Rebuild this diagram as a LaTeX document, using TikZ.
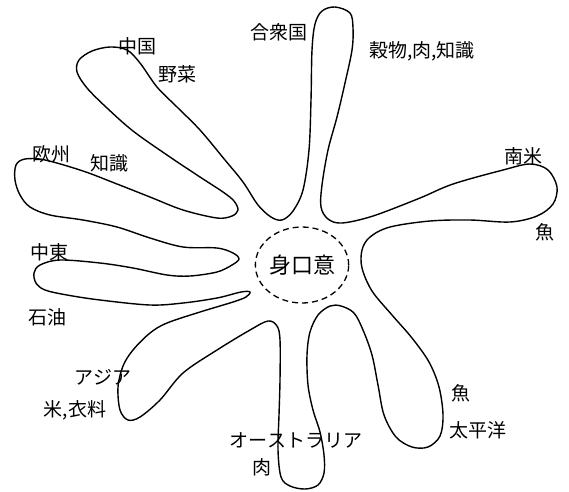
\documentclass[tikz,border=0pt]{standalone}
\usepackage{fontspec}
\newfontfamily\jpfont{Noto Sans CJK JP}
\usetikzlibrary{shapes.geometric}
\tikzset{
  lbl/.style={font=\jpfont\fontsize{19}{19}\selectfont, inner sep=0pt, anchor=center},
  outline/.style={line width=1.4pt, line join=round},
  core/.style={draw, dashed, dash pattern=on 6pt off 4pt, line width=1.3pt, ellipse,
    minimum width=90pt, minimum height=76pt, inner sep=0pt,
    font=\jpfont\fontsize{22}{22}\selectfont}
}
\begin{document}
\begin{tikzpicture}[x=1pt,y=-1pt]
\useasboundingbox (0,0) rectangle (569,491);
\fill[white] (0,0) rectangle (569,491);
% petal outline
\draw[outline] plot[smooth cycle, tension=0.55] coordinates {
(335,7) (350,13) (353,28) (352,50) (345,83) (337,117) (328,150) (322,185) (321,207) (328,219) (342,223)
(373,216) (420,198) (453,184) (503,170) (530,164) (548,170) (557,187) (553,204) (537,216) (510,222)
(470,220) (430,221) (390,227) (370,237) (362,250) (362,268) (372,291) (392,315) (412,338) (429,362)
(439,387) (443,415) (440,436) (428,447) (412,447) (396,437) (384,415) (378,385) (372,355) (363,330)
(354,313) (341,306) (330,306) (318,315) (310,332) (307,355) (308,385) (313,410) (320,432) (324,455)
(324,473) (318,485) (305,489) (290,486) (281,477) (278,450) (279,415) (280,380) (280,340) (277,326)
(268,321) (250,330) (217,350) (183,373) (160,400) (140,417) (128,420) (120,410) (118,387) (123,366)
(133,350) (150,333) (167,323) (200,312) (233,302) (246,297) (250,292) (241,292) (217,298) (183,303)
(150,305) (100,300) (67,295) (45,290) (36,283) (34,273) (40,265) (60,260) (100,263) (133,268)
(167,275) (190,276) (217,272) (232,265) (239,259) (233,253) (217,248) (183,247) (150,238) (117,227)
(83,220) (50,215) (30,207) (20,195) (15,180) (16,165) (25,159) (45,160) (83,171) (117,184)
(150,197) (183,210) (217,218) (232,216) (238,210) (234,201) (223,192) (200,177) (167,155) (133,131)
(107,108) (87,88) (77,72) (79,60) (92,51) (110,47) (127,50) (140,63) (157,87) (177,107)
(200,130) (225,160) (243,182) (258,205) (271,217) (282,220) (293,211) (303,190) (309,150) (311,100)
(312,50) (315,24) (322,11)
};
% centre
\node[core] (center) at (302,265) {身口意};
% labels
\node[lbl] (china) at (137,46) {中国};
\node[lbl] (veg) at (177,74) {野菜};
\node[lbl] (usa) at (279,32) {合衆国};
\node[lbl] (grain) at (422,51) {穀物,肉,知識};
\node[lbl] (samerica) at (523,156) {南米};
\node[lbl] (fish1) at (545,232) {魚};
\node[lbl] (europe) at (51,154) {欧州};
\node[lbl] (knowledge) at (109,163) {知識};
\node[lbl] (mideast) at (49,252) {中東};
\node[lbl] (oil) at (47,317) {石油};
\node[lbl] (asia) at (103,377) {アジア};
\node[lbl] (rice) at (75,410) {米,衣料};
\node[lbl] (australia) at (296,440) {オーストラリア};
\node[lbl] (meat) at (262,467) {肉};
\node[lbl] (fish2) at (461,393) {魚};
\node[lbl] (pacific) at (478,430) {太平洋};
\end{tikzpicture}
\end{document}
